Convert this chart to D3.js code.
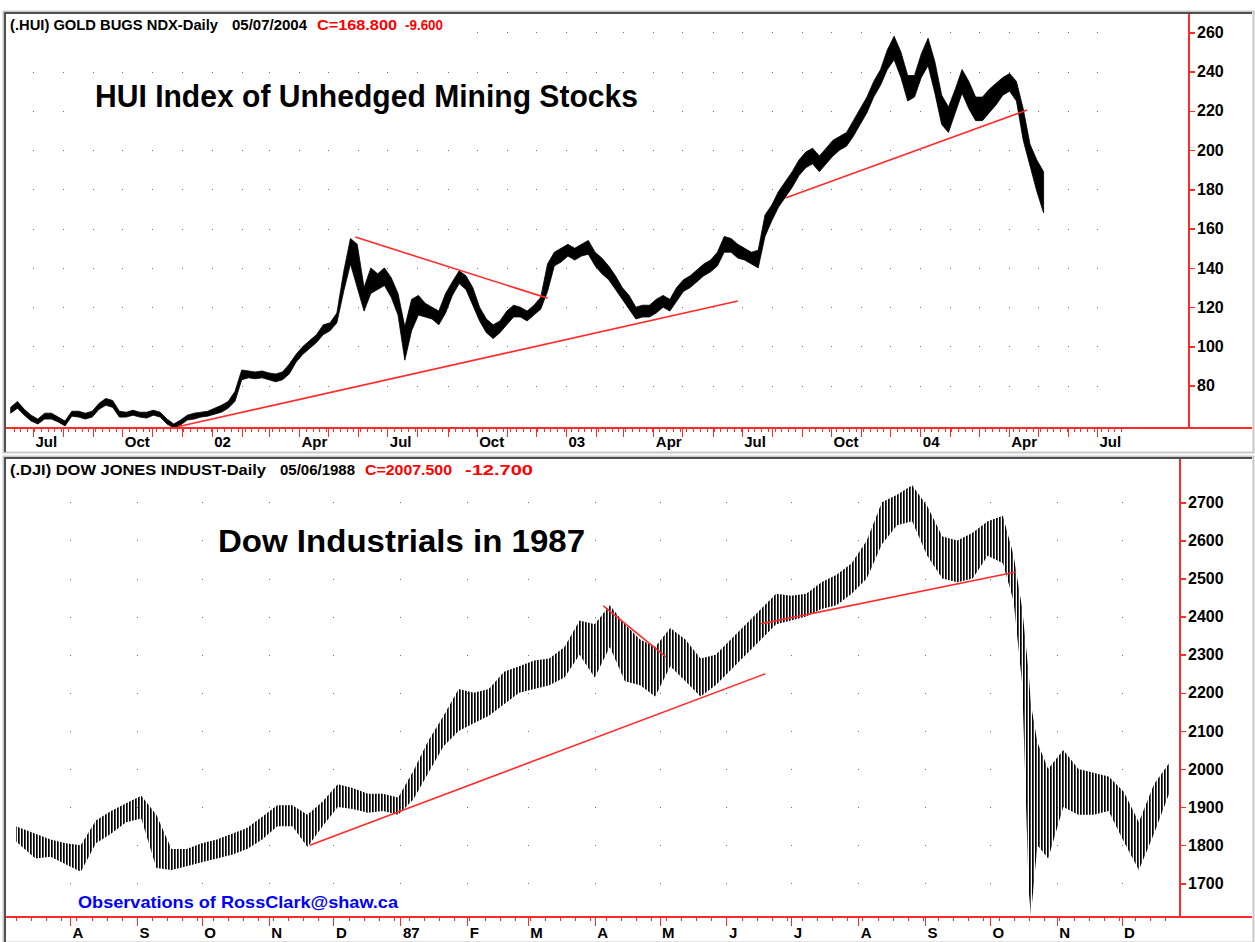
<!DOCTYPE html>
<html>
<head>
<script src="https://d3js.org/d3.v7.min.js"></script>
<style>
body { margin: 0; background: #fff; }
svg { display: block; font-family: "Liberation Sans", Arial, sans-serif; font-weight: bold; }
</style>
</head>
<body>
<script>
var W = 1255, H = 942

// ---- HUI (top panel), weekly envelope of the daily trace ----
var hui_dates = [
 "2001-06-08","2001-06-15","2001-06-22","2001-06-29","2001-07-06","2001-07-13","2001-07-20","2001-07-27","2001-08-03","2001-08-10",
 "2001-08-17","2001-08-24","2001-08-31","2001-09-07","2001-09-14","2001-09-21","2001-09-28","2001-10-05","2001-10-12","2001-10-19",
 "2001-10-26","2001-11-02","2001-11-09","2001-11-16","2001-11-23","2001-11-30","2001-12-07","2001-12-14","2001-12-21","2001-12-28",
 "2002-01-04","2002-01-11","2002-01-18","2002-01-25","2002-02-01","2002-02-08","2002-02-15","2002-02-22","2002-03-01","2002-03-08",
 "2002-03-15","2002-03-22","2002-03-29","2002-04-05","2002-04-12","2002-04-19","2002-04-26","2002-05-03","2002-05-10","2002-05-17",
 "2002-05-24","2002-05-31","2002-06-07","2002-06-14","2002-06-21","2002-06-28","2002-07-05","2002-07-12","2002-07-19","2002-07-26",
 "2002-08-02","2002-08-09","2002-08-16","2002-08-23","2002-08-30","2002-09-06","2002-09-13","2002-09-20","2002-09-27","2002-10-04",
 "2002-10-11","2002-10-18","2002-10-25","2002-11-01","2002-11-08","2002-11-15","2002-11-22","2002-11-29","2002-12-06","2002-12-13",
 "2002-12-20","2002-12-27",
 "2003-01-03","2003-01-10","2003-01-17","2003-01-24","2003-01-31","2003-02-07","2003-02-14","2003-02-21","2003-02-28","2003-03-07",
 "2003-03-14","2003-03-21","2003-03-28","2003-04-04","2003-04-11","2003-04-18","2003-04-25","2003-05-02","2003-05-09","2003-05-16",
 "2003-05-23","2003-05-30","2003-06-06","2003-06-13","2003-06-20","2003-06-27","2003-07-04","2003-07-11","2003-07-18","2003-07-25",
 "2003-08-01","2003-08-08","2003-08-15","2003-08-22","2003-08-29","2003-09-05","2003-09-12","2003-09-19","2003-09-26","2003-10-03",
 "2003-10-10","2003-10-17","2003-10-24","2003-10-31","2003-11-07","2003-11-14","2003-11-21","2003-11-28","2003-12-05","2003-12-12",
 "2003-12-19","2003-12-26",
 "2004-01-02","2004-01-09","2004-01-16","2004-01-23","2004-01-30","2004-02-06","2004-02-13","2004-02-20","2004-02-27","2004-03-05",
 "2004-03-12","2004-03-19","2004-03-26","2004-04-02","2004-04-09","2004-04-16","2004-04-23","2004-04-30","2004-05-07"
]
var hui_hi = [
 69,72,68,65,63,66,66,64,62,67,67,66,67,71,73.5,72.5,67,66.5,67.5,66.5,66.5,67.5,66.5,63,60.5,62.5,65,66,66.5,67,
 68.5,70,72,77,88,87.5,87,87.5,86.5,86,87,91,96,100,103,106,111,112,117,138,155,152,130,140,137,140,135,127,110,124,
 126,122,120,118,127,133,138.5,136,130,120,114,111,113,118,121,120,118,121,125,142,148,150,
 152,150,152,154,148,145,141,136,130,126,120,121,121,124,126,124,130,134,136,139,142,144,148,156,155,152,150,148,149,167,
 172,179,184,189,195,199,201,197,201,205,207,209,215,221,227,235,241,251,258,250,238,238,
 249,257,245,228,222,231,241,235,227,227,231,234,237,239,235,221,203,195,189
]
var hui_lo = [
 66,68.5,65,62,60.5,63,63,61.5,59.5,64.5,64,63,64,68,70,69,64,64,65,64,63.5,65,64,60.5,58.5,60,62.5,63,64,64.5,
 65.5,66.5,68.5,72,83,84,83.5,84,83,82,83,86,92,96,99,102,106,108,112,128,142,130,118,127,129,131,125,116,93,108,
 116,115,114,111,117,126,132,129,121,113,107,104,107,111,115,115,113,116,119,128,141,143,
 146,144,146,147,141,137,134,129,124,119,114,115,115,117,120,118,123,128,130,133,136,138,141,148,148,145,144,142,140,156,
 164,171,176,181,187,191,193,189,193,197,200,202,207,213,219,227,233,241,246,237,225,227,
 237,243,229,213,209,219,229,221,215,215,219,223,228,230,225,205,192,179,168
]
var hui_yticks = [80,100,120,140,160,180,200,220,240,260]
var hui_xlabel_dates = ["2001-07-01","2001-10-01","2002-01-01","2002-04-01","2002-07-01","2002-10-01","2003-01-01","2003-04-01","2003-07-01","2003-10-01","2004-01-01","2004-04-01","2004-07-01"]
var hui_xlabels = ["Jul","Oct","02","Apr","Jul","Oct","03","Apr","Jul","Oct","04","Apr","Jul"]
var hui_trend = [
 [["2001-11-27",59.1],["2003-06-27",123.1]],
 [["2002-05-29",155.7],["2002-12-13",124.6]],
 [["2003-08-15",175.6],["2004-04-20",220.4]]
]

// ---- DJI (bottom panel), weekly range of the daily bars ----
var dji_dates = [
 "1986-07-07","1986-07-16","1986-07-23","1986-07-30","1986-08-06","1986-08-13","1986-08-20","1986-08-27","1986-09-03","1986-09-10",
 "1986-09-17","1986-09-24","1986-10-01","1986-10-08","1986-10-15","1986-10-22","1986-10-29","1986-11-05","1986-11-12","1986-11-19",
 "1986-11-26","1986-12-03","1986-12-10","1986-12-17","1986-12-24","1986-12-31",
 "1987-01-07","1987-01-14","1987-01-21","1987-01-28","1987-02-04","1987-02-11","1987-02-18","1987-02-25","1987-03-04","1987-03-11",
 "1987-03-18","1987-03-25","1987-04-01","1987-04-08","1987-04-15","1987-04-22","1987-04-29","1987-05-06","1987-05-13","1987-05-20",
 "1987-05-27","1987-06-03","1987-06-10","1987-06-17","1987-06-24","1987-07-01","1987-07-08","1987-07-15","1987-07-22","1987-07-29",
 "1987-08-05","1987-08-12","1987-08-19","1987-08-26","1987-09-02","1987-09-09","1987-09-16","1987-09-23","1987-09-30","1987-10-07",
 "1987-10-12","1987-10-16","1987-10-19","1987-10-20","1987-10-23","1987-10-28","1987-11-04","1987-11-11","1987-11-18","1987-11-25",
 "1987-12-02","1987-12-09","1987-12-16","1987-12-23"
]
var dji_hi = [
 1850,1830,1815,1805,1800,1865,1890,1910,1930,1880,1790,1790,1805,1815,1830,1845,1875,1905,1905,1880,1915,1960,1950,1935,1935,1925,
 1995,2075,2140,2210,2200,2210,2255,2270,2285,2290,2320,2390,2380,2430,2380,2340,2320,2370,2340,2290,2300,2340,2380,2420,2460,
 2455,2460,2490,2510,2540,2600,2700,2720,2745,2690,2610,2600,2620,2650,2665,2560,2420,2250,2170,2070,2000,2050,2000,1990,1980,
 1940,1860,1960,2015
]
var dji_lo = [
 1810,1765,1770,1750,1730,1805,1830,1860,1870,1740,1735,1745,1755,1765,1775,1790,1815,1850,1850,1795,1850,1900,1895,1885,1890,1880,
 1920,1990,2060,2100,2120,2140,2170,2200,2210,2220,2240,2300,2240,2320,2230,2220,2190,2270,2230,2190,2220,2260,2300,2340,2380,
 2390,2400,2420,2430,2460,2500,2590,2640,2650,2560,2500,2490,2500,2560,2540,2440,2220,1680,1616,1800,1765,1900,1880,1880,1890,
 1810,1735,1830,1935
]
var dji_yticks = [1700,1800,1900,2000,2100,2200,2300,2400,2500,2600,2700]
var dji_xlabel_dates = ["1986-08-01","1986-09-01","1986-10-01","1986-11-01","1986-12-01","1987-01-01","1987-02-01","1987-03-01","1987-04-01","1987-05-01","1987-06-01","1987-07-01","1987-08-01","1987-09-01","1987-10-01","1987-11-01","1987-12-01"]
var dji_xlabels = ["A","S","O","N","D","87","F","M","A","M","J","J","A","S","O","N","D"]
var dji_trend = [
 [["1986-11-20",1800],["1987-06-19",2250]],
 [["1987-04-05",2428],["1987-05-04",2294]],
 [["1987-06-17",2381],["1987-10-13",2517]]
]

var parse = d3.timeParse("%Y-%m-%d")
var RED = "#ff2a2a"

var svg = d3.select("body").append("svg").attr("width", W).attr("height", H)

// vertical hatch used to draw the dense daily bars of the Dow panel
var defs = svg.append("defs")
defs.append("pattern").attr("id", "bars").attr("patternUnits", "userSpaceOnUse")
  .attr("width", 3).attr("height", 8)
  .append("rect").attr("x", 0).attr("y", 0).attr("width", 1.7).attr("height", 8).attr("fill", "#000")

// window frames
function frame(y0, y1) {
  svg.append("rect").attr("x", 3.5).attr("y", y0 - 1.5).attr("width", W - 5).attr("height", y1 - y0 + 2)
    .attr("fill", "#fff").attr("stroke", "#c8c8c8").attr("stroke-width", 2)
  svg.append("path").attr("d", "M5," + y1 + "V" + y0 + "H" + (W - 3))
    .attr("fill", "none").attr("stroke", "#505050").attr("stroke-width", 2)
}
frame(13, 452)
frame(458, 942)

function panel(o) {
  var g = svg.append("g")
  var x = o.x, y = o.y

  // dotted grid at month starts x value ticks
  var months = d3.timeMonth.range(o.tickStart, o.tickEnd).filter(function(d){ return x(d) >= o.left })
  var dots = []
  months.forEach(function(m){ o.yticks.forEach(function(v){ dots.push([x(m), y(v)]) }) })
  g.selectAll(".dot").data(dots).enter().append("rect")
    .attr("x", function(d){ return Math.round(d[0]) }).attr("y", function(d){ return Math.round(d[1]) })
    .attr("width", 1).attr("height", 1).attr("fill", "#707070")

  // white boxes behind the header and big title
  g.append("rect").attr("x", o.left).attr("y", o.top).attr("width", o.headW).attr("height", 24).attr("fill", "#fff")
  g.append("rect").attr("x", o.titleX - 6).attr("y", o.titleY - 30).attr("width", o.titleW + 12).attr("height", 40).attr("fill", "#fff")

  // price envelope
  var area = d3.area()
    .x(function(d){ return x(d.date) })
    .y0(function(d){ return y(d.lo) })
    .y1(function(d){ return y(d.hi) })
  var rows = o.dates.map(function(d, i){ return { date: parse(d), hi: o.hi[i], lo: o.lo[i] } })
  g.append("path").datum(rows).attr("d", area)
    .attr("fill", o.fill).attr("stroke", o.stroke).attr("stroke-width", o.strokeW)

  // trend lines
  var line = d3.line().x(function(d){ return x(parse(d[0])) }).y(function(d){ return y(d[1]) })
  g.selectAll(".trend").data(o.trend).enter().append("path")
    .attr("d", line).attr("fill", "none").attr("stroke", RED).attr("stroke-width", 1.6)

  // x axis: weekly small ticks, monthly long ticks, quarter / month labels
  var weeks = d3.timeMonday.range(o.tickStart, o.tickEnd).filter(function(d){ return x(d) >= o.left })
  g.append("g").attr("transform", "translate(0," + o.bottom + ")")
    .call(d3.axisBottom(x).tickValues(weeks).tickSize(4).tickSizeOuter(0).tickFormat(""))
  var labDates = o.labelDates.map(parse)
  var ax = g.append("g").attr("transform", "translate(0," + o.bottom + ")")
    .call(d3.axisBottom(x).tickValues(months).tickSize(9).tickSizeOuter(0)
      .tickFormat(function(d){
        for (var i = 0; i < labDates.length; i++) if (+labDates[i] === +d) return o.labels[i]
        return ""
      }))
  ax.selectAll("text").attr("text-anchor", "start").attr("x", 2).attr("y", o.labelY).attr("dy", 0)
    .attr("fill", "#000").style("font-size", "15px").style("font-weight", "bold")
  g.selectAll(".domain").remove()
  g.selectAll(".tick line").attr("stroke", RED).attr("shape-rendering", "crispEdges")

  g.append("line").attr("x1", 6).attr("x2", W - 3).attr("y1", o.bottom).attr("y2", o.bottom)
    .attr("stroke", RED).attr("stroke-width", 2).attr("shape-rendering", "crispEdges")

  // right value axis
  var ay = g.append("g").attr("transform", "translate(" + o.right + ",0)")
    .call(d3.axisRight(y).tickValues(o.yticks).tickSize(6).tickPadding(2).tickFormat(d3.format("d")))
  ay.select(".domain").remove()
  ay.selectAll("line").attr("stroke", RED).attr("stroke-width", 1.5).attr("shape-rendering", "crispEdges")
  ay.selectAll("text").attr("fill", "#000").style("font-size", "16px").style("font-weight", "bold")
    .style("font-family", "'Liberation Sans', Arial, sans-serif")
  g.append("line").attr("x1", o.right).attr("x2", o.right).attr("y1", o.top).attr("y2", o.bottom)
    .attr("stroke", RED).attr("stroke-width", 2).attr("shape-rendering", "crispEdges")

  // header
  var hd = g.append("text").attr("x", 10).attr("y", o.top + 16).style("font-size", "15px")
  o.head.forEach(function(h){
    hd.append("tspan").attr("x", h[1]).attr("fill", h[3]).attr("textLength", h[2]).attr("lengthAdjust", "spacingAndGlyphs").text(h[0])
  })

  // big title
  g.append("text").attr("x", o.titleX).attr("y", o.titleY).style("font-size", "31px").attr("fill", "#000")
    .attr("textLength", o.titleW).attr("lengthAdjust", "spacingAndGlyphs").text(o.title)
}

panel({
  x: d3.scaleTime().domain([parse("2001-07-01"), parse("2004-07-01")]).range([33, 1097]),
  y: d3.scaleLinear().domain([80, 260]).range([385.7, 32.3]),
  left: 8, right: 1189, top: 14, bottom: 428,
  tickStart: parse("2001-06-04"), tickEnd: parse("2004-08-01"),
  yticks: hui_yticks, dates: hui_dates, hi: hui_hi, lo: hui_lo,
  fill: "#000", stroke: "#000", strokeW: 0.8,
  trend: hui_trend, labelDates: hui_xlabel_dates, labels: hui_xlabels, labelY: 18.5,
  headW: 460,
  head: [["(.HUI) GOLD BUGS NDX-Daily", 10, 208, "#000"], ["05/07/2004", 232, 75, "#000"], ["C=168.800", 317, 80, "#ff0000"], ["-9.600", 405, 38, "#ff0000"]],
  title: "HUI Index of Unhedged Mining Stocks", titleX: 95, titleY: 107, titleW: 543
})

panel({
  x: d3.scaleTime().domain([parse("1986-08-01"), parse("1987-12-01")]).range([70, 1121.6]),
  y: d3.scaleLinear().domain([1700, 2700]).range([883.3, 502.3]),
  left: 8, right: 1180, top: 459, bottom: 917,
  tickStart: parse("1986-07-01"), tickEnd: parse("1987-12-24"),
  yticks: dji_yticks, dates: dji_dates, hi: dji_hi, lo: dji_lo,
  fill: "url(#bars)", stroke: "none", strokeW: 0,
  trend: dji_trend, labelDates: dji_xlabel_dates, labels: dji_xlabels, labelY: 21,
  headW: 540,
  head: [["(.DJI) DOW JONES INDUST-Daily", 10, 256, "#000"], ["05/06/1988", 280, 75, "#000"], ["C=2007.500", 365, 87, "#ff0000"], ["-12.700", 465, 68, "#ff0000"]],
  title: "Dow Industrials in 1987", titleX: 218, titleY: 552, titleW: 367
})

svg.append("text").attr("x", 78).attr("y", 908).attr("fill", "#0000ff").style("font-size", "17px")
  .attr("textLength", 320).attr("lengthAdjust", "spacingAndGlyphs").text("Observations of RossClark@shaw.ca")
</script>
</body>
</html>
